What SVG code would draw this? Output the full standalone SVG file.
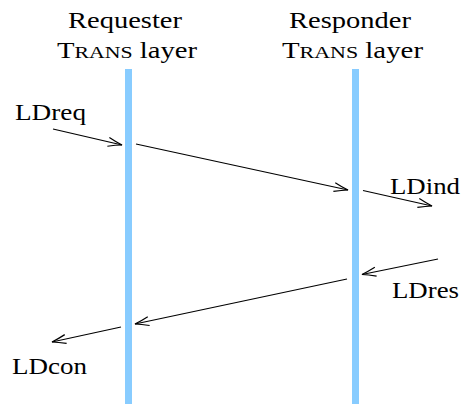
<svg xmlns="http://www.w3.org/2000/svg" width="462" height="404" viewBox="0 0 462 404">
<style>
text{font-family:"Liberation Serif","DejaVu Serif",serif;font-size:23px;fill:#000}
.sc{font-size:17.5px}
.bar{fill:#88ccff}
.arr{stroke:#000;stroke-width:1.2;fill:none;marker-end:url(#ah)}
</style>
<defs>
<marker id="ah" markerUnits="userSpaceOnUse" markerWidth="20" markerHeight="14" refX="0" refY="0" viewBox="-16 -7 20 14" orient="auto">
<path d="M-14,-4.5 Q-6,-1.5 0,0 Q-6,1.5 -14,4.5" fill="none" stroke="#000" stroke-width="1.2"/>
</marker>
</defs>
<rect width="462" height="404" fill="#fff"/>
<g id="requester">
<rect class="bar" x="125" y="69" width="7" height="335"/>
<text x="68" y="28" textLength="114" lengthAdjust="spacingAndGlyphs">Requester</text>
<text x="57" y="58" textLength="140" lengthAdjust="spacingAndGlyphs">T<tspan class="sc">RANS</tspan> layer</text>
</g>
<g id="responder">
<rect class="bar" x="352" y="69" width="7" height="335"/>
<text x="289" y="28" textLength="122" lengthAdjust="spacingAndGlyphs">Responder</text>
<text x="282" y="58" textLength="141" lengthAdjust="spacingAndGlyphs">T<tspan class="sc">RANS</tspan> layer</text>
</g>
<g id="labels">
<text x="15" y="120" textLength="71" lengthAdjust="spacingAndGlyphs">LDreq</text>
<text x="390" y="194" textLength="70" lengthAdjust="spacingAndGlyphs">LDind</text>
<text x="392" y="298" textLength="67" lengthAdjust="spacingAndGlyphs">LDres</text>
<text x="12" y="374" textLength="75" lengthAdjust="spacingAndGlyphs">LDcon</text>
</g>
<g id="connectors">
<line class="arr" x1="53" y1="129" x2="122" y2="145"/>
<line class="arr" x1="136" y1="144" x2="348" y2="190"/>
<line class="arr" x1="363" y1="190.5" x2="432" y2="206"/>
<line class="arr" x1="438" y1="259" x2="362" y2="274.5"/>
<line class="arr" x1="347" y1="279" x2="135" y2="324"/>
<line class="arr" x1="121" y1="327" x2="52" y2="342"/>
</g>
</svg>
